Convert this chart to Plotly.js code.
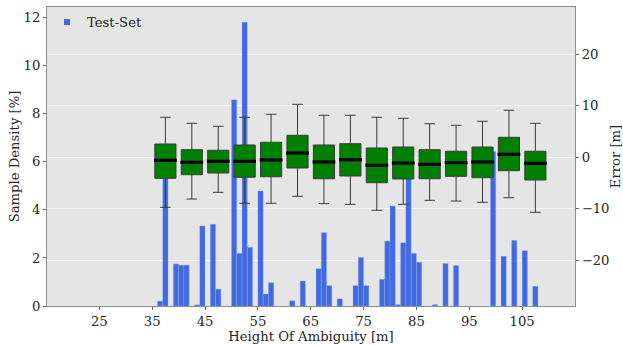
<!DOCTYPE html>
<html>
<head>
<meta charset="utf-8">
<script src="https://cdn.plot.ly/plotly-3.0.1.min.js"></script>
<style>html,body{margin:0;padding:0;background:#fff;}#chart{width:623px;height:345px;}</style>
</head>
<body>
<div id="chart"></div>
<script>
// Histogram bins (left edge, 1 m wide) and sample density [%]
const binLeft = [36, 37, 39, 40, 41, 43, 44, 46, 47, 50, 51, 52, 53, 55, 56, 57, 61, 63, 66, 67, 68, 70, 73, 74, 75, 78, 79, 80, 81, 82, 83, 84, 85, 88, 90, 92, 99, 101, 103, 105, 107];
const density = [0.2, 6.0, 1.75, 1.70, 1.70, 0.05, 3.33, 3.40, 0.70, 8.57, 2.19, 11.80, 2.44, 4.78, 0.50, 0.97, 0.22, 1.04, 1.55, 3.05, 0.85, 0.30, 0.85, 2.02, 0.85, 1.11, 2.70, 4.16, 0.06, 2.63, 5.9, 2.19, 1.82, 0.06, 1.77, 1.68, 6.42, 2.07, 2.73, 2.30, 0.82];

// Error boxes per 5 m group
const boxCenters = [37.5, 42.5, 47.5, 52.5, 57.5, 62.5, 67.5, 72.5, 77.5, 82.5, 87.5, 92.5, 97.5, 102.5, 107.5];
const errUpper  = [7.77, 6.60, 6.02, 7.77, 8.35, 10.29, 8.16, 8.16, 7.77, 7.57, 6.52, 6.21, 6.99, 9.13, 6.60];
const errQ3     = [2.58, 1.48, 1.36, 2.39, 2.91, 4.27, 2.39, 2.64, 1.81, 2.00, 1.48, 1.17, 2.00, 3.88, 1.17];
const errMedian = [-0.58, -0.97, -0.78, -0.78, -0.52, 0.83, -0.91, -0.47, -1.55, -1.11, -1.36, -1.04, -0.91, 0.58, -1.17];
const errQ1     = [-4.08, -3.38, -3.05, -3.88, -3.77, -2.08, -4.16, -3.63, -4.93, -4.21, -4.16, -3.69, -3.96, -2.60, -4.41];
const errLower  = [-9.71, -8.10, -6.80, -8.93, -8.93, -7.57, -9.00, -9.13, -10.29, -9.13, -8.35, -8.49, -8.74, -7.84, -10.68];

const xTicks = [25, 35, 45, 55, 65, 75, 85, 95, 105];
const yTicks = [0, 2, 4, 6, 8, 10, 12];
const y2Ticks = [-20, -10, 0, 10, 20];

const BOX_W = 4;
const FONT = {family: 'DejaVu Serif', size: 13.2, color: '#262626'};

const medX = [], medY = [];
boxCenters.forEach((c, i) => { medX.push(c - BOX_W/2 - 0.15, c + BOX_W/2 + 0.15, null); medY.push(errMedian[i], errMedian[i], null); });

const traces = [
  {
    type: 'bar', x: binLeft.map(b => b + 0.5), y: density, width: 1,
    marker: {color: '#4169E1', line: {color: 'rgba(160,180,240,0.6)', width: 0.5}},
    showlegend: false, xaxis: 'x', yaxis: 'y', hoverinfo: 'x+y'
  },
  {
    type: 'scatter', mode: 'markers', x: [null], y: [null], name: 'Test-Set',
    marker: {symbol: 'square', size: 6, color: '#4169E1'}, xaxis: 'x', yaxis: 'y'
  },
  {
    type: 'box', x: boxCenters, q1: errQ1, median: errMedian, q3: errQ3,
    lowerfence: errLower, upperfence: errUpper, width: BOX_W, whiskerwidth: 0.5,
    fillcolor: '#008000', line: {color: '#3a3a3a', width: 1},
    showlegend: false, xaxis: 'x', yaxis: 'y2', boxpoints: false
  },
  {
    type: 'scatter', mode: 'lines', x: medX, y: medY,
    line: {color: '#000', width: 3.2}, showlegend: false, xaxis: 'x', yaxis: 'y2', hoverinfo: 'skip'
  }
];

const layout = {
  width: 623, height: 345,
  margin: {l: 47, r: 48, t: 7, b: 39},
  paper_bgcolor: '#fff', plot_bgcolor: '#E5E5E5',
  font: FONT,
  showlegend: true,
  legend: {x: 0.0, y: 1.0, xanchor: 'left', yanchor: 'top', bgcolor: 'rgba(0,0,0,0)', font: FONT, itemwidth: 30},
  xaxis: {
    range: [15.1, 115.0], tickvals: xTicks, ticktext: xTicks.map(String),
    ticks: 'outside', ticklen: 3, tickcolor: '#666', showgrid: false, zeroline: false,
    showline: true, linecolor: '#8c8c8c', linewidth: 1, mirror: true,
    tickfont: FONT, title: {text: 'Height Of Ambiguity [m]', font: FONT, standoff: 1}
  },
  yaxis: {
    range: [0, 12.43], tickvals: yTicks, ticktext: yTicks.map(String),
    ticks: 'outside', ticklen: 3, tickcolor: '#666', showgrid: false, zeroline: false,
    showline: true, linecolor: '#8c8c8c', linewidth: 1,
    tickfont: FONT, title: {text: 'Sample Density [%]', font: FONT, standoff: 0}
  },
  yaxis2: {
    overlaying: 'y', side: 'right', range: [-28.87, 29.18],
    tickvals: y2Ticks, ticktext: y2Ticks.map(v => v < 0 ? '\u2212' + Math.abs(v) : String(v)),
    ticks: 'outside', ticklen: 3, tickcolor: '#666', showgrid: true, gridcolor: '#F5F5F5', gridwidth: 1,
    zeroline: false, showline: true, linecolor: '#8c8c8c', linewidth: 1,
    tickfont: FONT, title: {text: 'Error [m]', font: FONT, standoff: 4}
  }
};

Plotly.newPlot('chart', traces, layout, {displayModeBar: false, staticPlot: true});
</script>
</body>
</html>
